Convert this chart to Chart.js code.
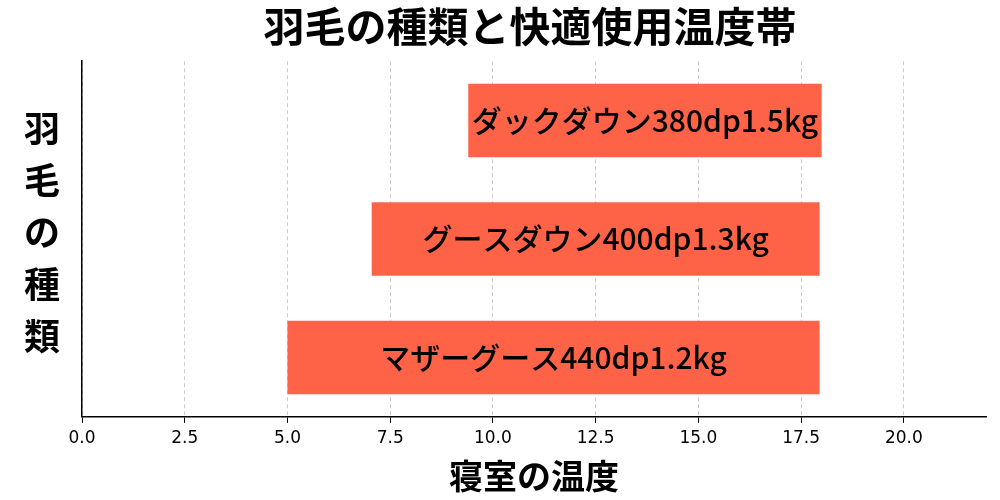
<!DOCTYPE html>
<html><head><meta charset="utf-8">
<script src="https://cdn.jsdelivr.net/npm/chart.js@4"></script>
<style>html,body{margin:0;padding:0;background:#fff}#w{width:1000px;height:500px}</style>
</head><body><div id="w"><canvas id="c" width="1000" height="500"></canvas></div>
<script>
const categories = ["ダックダウン380dp1.5kg","グースダウン400dp1.3kg","マザーグース440dp1.2kg"];
const minTemps = [9.4, 7.05, 5.0];
const maxTemps = [18.0, 17.95, 17.95];
const xTicks = [0,2.5,5,7.5,10,12.5,15,17.5,20];
const FONT = "'Noto Sans CJK JP','DejaVu Sans',sans-serif";

const labelPlugin = {
  id:'lbl',
  afterDatasetsDraw(chart){
    const ctx=chart.ctx, meta=chart.getDatasetMeta(0);
    ctx.save();
    ctx.fillStyle='#000'; ctx.font="500 30px "+FONT;
    ctx.textAlign='center'; ctx.textBaseline='middle';
    meta.data.forEach((b,i)=>{
      const p=b.getProps(['x','base','y'],true);
      ctx.fillText(categories[i],(p.x+p.base)/2,p.y);
    });
    ctx.font="bold 36px "+FONT;
    const ch=[..."羽毛の種類"];
    ch.forEach((c,i)=>ctx.fillText(c,42,128+i*52));
    ctx.restore();
  }
};

new Chart(document.getElementById('c'),{
  type:'bar',
  data:{labels:categories,datasets:[{
    data:categories.map((_,i)=>[minTemps[i],maxTemps[i]]),
    backgroundColor:'#FF6347',borderWidth:0,
    barPercentage:0.62,categoryPercentage:1
  }]},
  options:{
    indexAxis:'y',responsive:false,animation:false,
    layout:{padding:{left:74,right:14,top:0,bottom:0}},
    plugins:{legend:{display:false},tooltip:{enabled:false},
      title:{display:true,text:'羽毛の種類と快適使用温度帯',font:{family:FONT,size:41,weight:'bold'},color:'#000',padding:{top:2,bottom:10}}},
    scales:{
      x:{min:0,max:22,afterBuildTicks(a){a.ticks=xTicks.map(v=>({value:v}));},
        ticks:{color:'#000',font:{family:"'DejaVu Sans'",size:17},callback:v=>v.toFixed(1),padding:6},
        grid:{color:'#cccccc',drawTicks:true,tickColor:'#000',tickLength:6},
        border:{color:'#000',width:1.5,dash:[4,3]},
        title:{display:true,text:'寝室の温度',font:{family:FONT,size:34,weight:'bold'},color:'#000',padding:{top:0}}},
      y:{ticks:{display:false},grid:{display:false},border:{color:'#000',width:1.5}}
    }
  },
  plugins:[labelPlugin]
});
</script></body></html>
